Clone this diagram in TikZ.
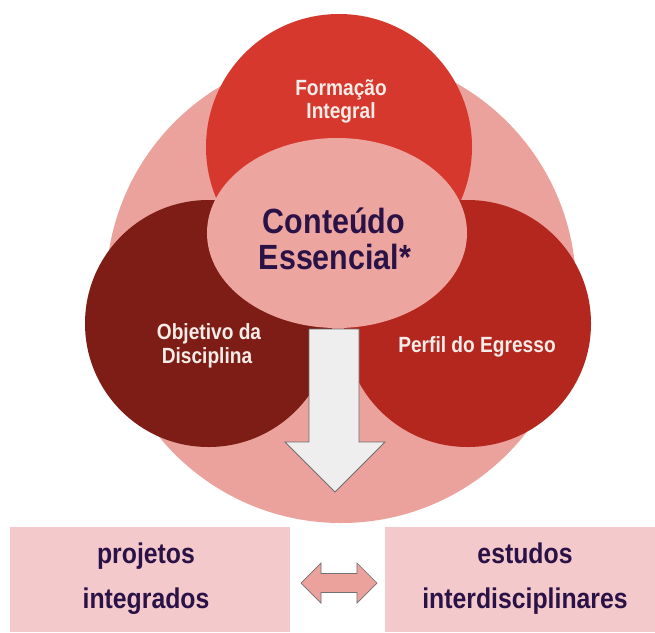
\documentclass[tikz,border=0pt]{standalone}
\usepackage{fontspec}
\setmainfont{Liberation Sans}[FakeStretch=0.87]
\definecolor{bgpink}{HTML}{EBA19C}
\definecolor{ellpink}{HTML}{EDA5A0}
\definecolor{topred}{HTML}{D7382D}
\definecolor{leftred}{HTML}{7E1C16}
\definecolor{rightred}{HTML}{B4271F}
\definecolor{boxpink}{HTML}{F3C9CB}
\definecolor{darktxt}{HTML}{2B1246}
\definecolor{lighttxt}{HTML}{F6ECE8}
\definecolor{arrowfill}{HTML}{EEEEEE}
\definecolor{arrowline}{HTML}{707070}
\tikzset{
  disc/.style={circle, inner sep=0pt, draw=none},
  wlabel/.style={anchor=base, inner sep=0pt, text=lighttxt, font=\bfseries\fontsize{22}{24}\selectfont},
  clabel/.style={anchor=base, inner sep=0pt, text=darktxt, font=\bfseries\fontsize{35}{38}\selectfont},
  blabel/.style={anchor=base, inner sep=0pt, text=darktxt, font=\bfseries\fontsize{28.5}{30}\selectfont},
  boxbg/.style={fill=boxpink, draw=none}
}
\begin{document}
\begin{tikzpicture}[x=1pt,y=-1pt]
\useasboundingbox (0,0) rectangle (655,632);
\fill[white] (0,0) rectangle (655,632);
% big background circle
\node[disc, fill=bgpink, minimum size=470pt] (bg) at (341,288) {};
% top circle
\node[disc, fill=topred, minimum size=266pt] (top) at (339,147) {};
% left and right circles
\node[disc, fill=leftred, minimum size=247pt] (left) at (208.5,323.5) {};
\node[disc, fill=rightred, minimum size=247pt] (right) at (467.5,323.5) {};
% central ellipse
\fill[ellpink] (337,233) ellipse [x radius=130, y radius=95];
\coordinate (core) at (337,233);
% down arrow
\draw[fill=arrowfill, draw=arrowline, line width=0.8pt, line join=miter]
  (309,329) -- (359,329) -- (359,442) -- (385,442) -- (335,492) -- (285,442) -- (309,442) -- cycle;
% bottom boxes
\fill[boxbg] (10,527) rectangle (290,632);
\fill[boxbg] (385,527) rectangle (655,632);
\coordinate (lbox) at (150,578);
\coordinate (rbox) at (520,578);
% double arrow
\draw[fill=bgpink, draw=arrowline, line width=0.7pt, line join=miter]
  (301,583) -- (321,563) -- (321,573.5) -- (357,573.5) -- (357,563) -- (377,583)
  -- (357,603) -- (357,592.5) -- (321,592.5) -- (321,603) -- cycle;
% labels
\node[wlabel] (f1) at (341,95) {Formação};
\node[wlabel] (f2) at (341,118) {Integral};
\node[clabel] (c1) at (334,233) {Conteúdo};
\node[clabel] (c2) at (335,269) {Essencial*};
\node[wlabel] (o1) at (209,339) {Objetivo da};
\node[wlabel] (o2) at (207,363) {Disciplina};
\node[wlabel] (p1) at (477,352) {Perfil do Egresso};
\node[blabel] (b1) at (146,563) {projetos};
\node[blabel] (b2) at (146,608) {integrados};
\node[blabel] (b3) at (525,563) {estudos};
\node[blabel] (b4) at (525,608) {interdisciplinares};
\end{tikzpicture}
\end{document}
